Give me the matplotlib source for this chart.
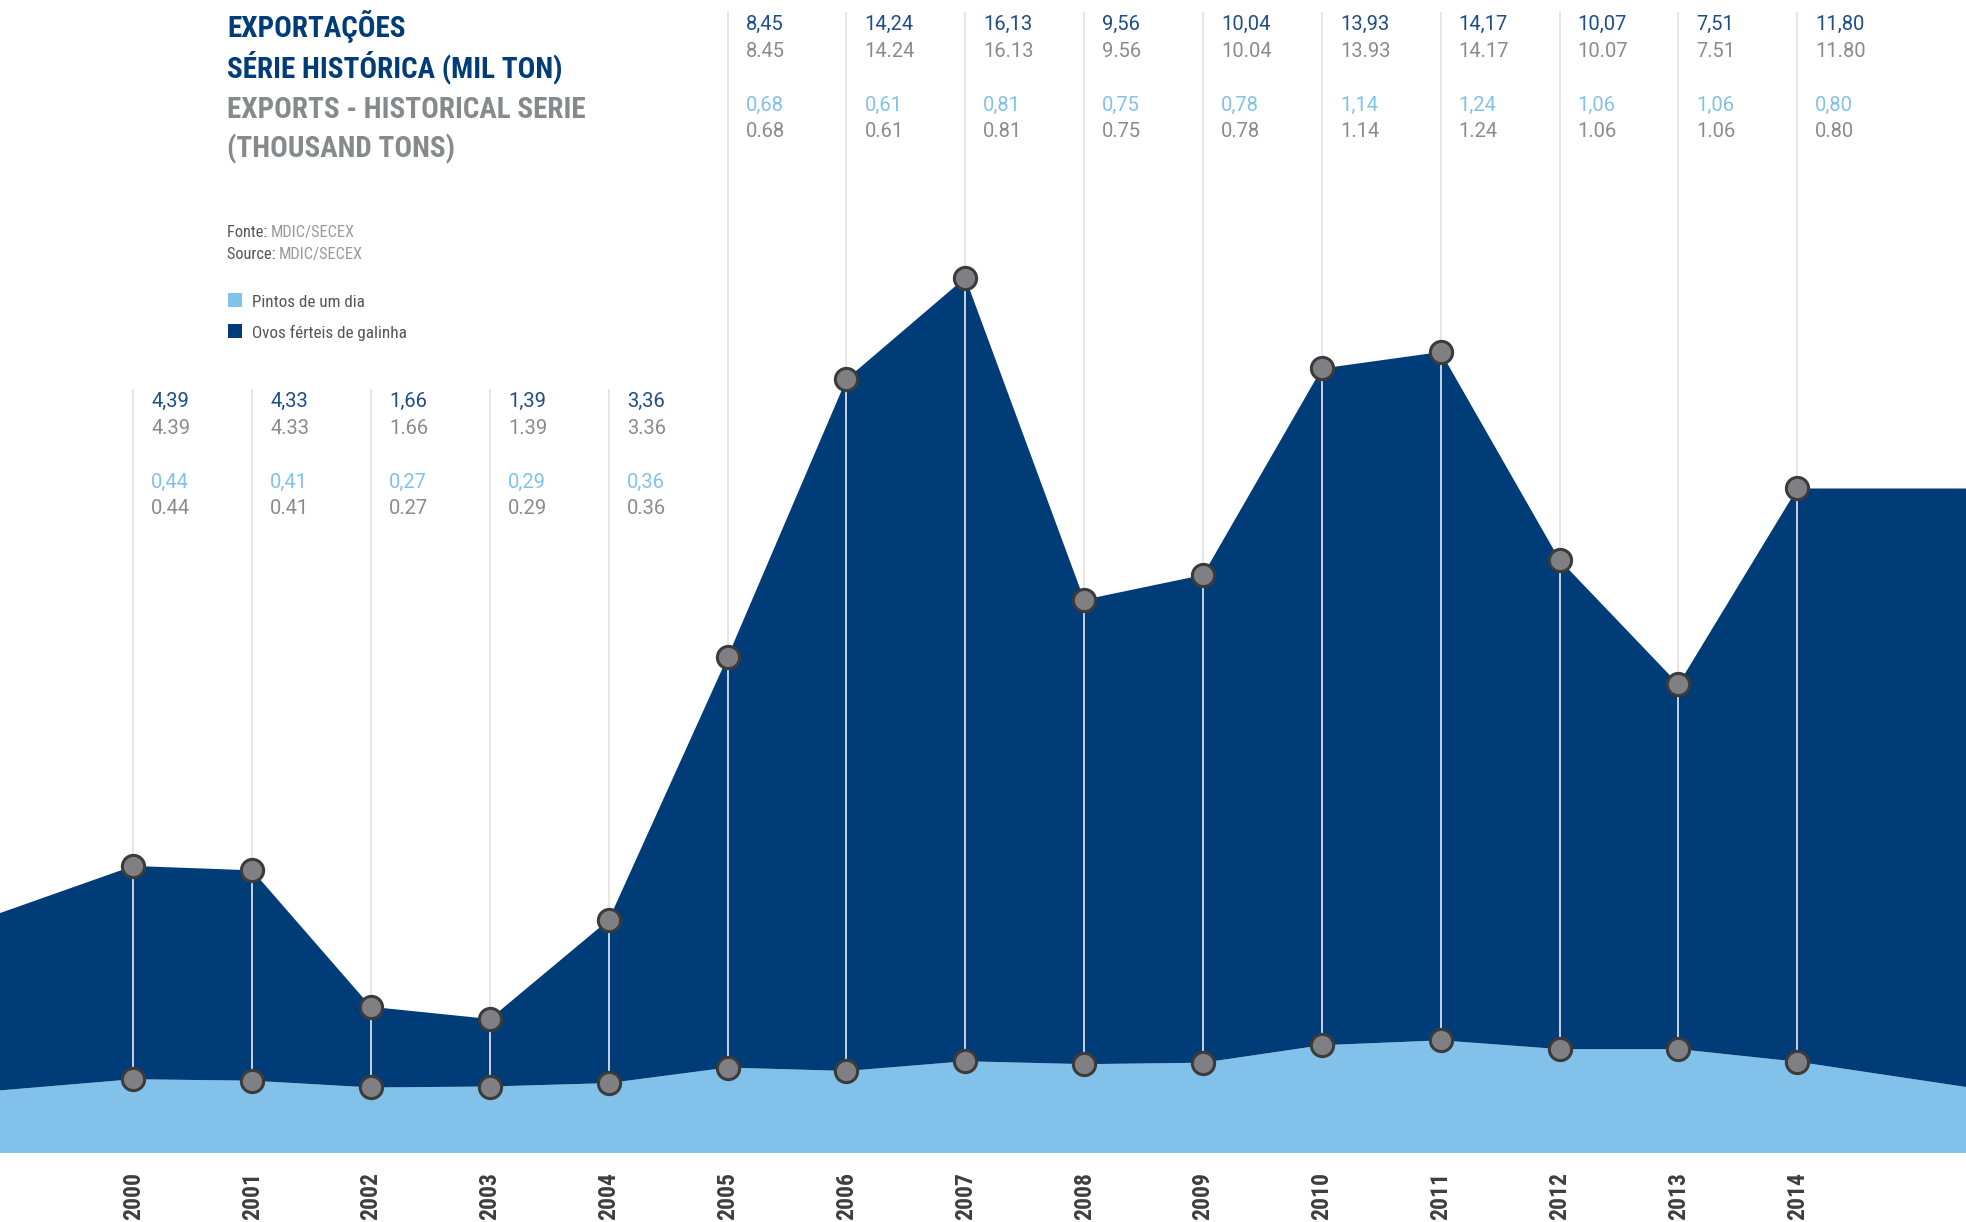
import matplotlib
matplotlib.use("Agg")
import matplotlib.pyplot as plt
import matplotlib.transforms as mtransforms
from matplotlib import font_manager as fm
import numpy as np

# ---------------- data ----------------
years = [2000, 2001, 2002, 2003, 2004, 2005, 2006, 2007, 2008, 2009, 2010, 2011, 2012, 2013, 2014]
ovos = [4.39, 4.33, 1.66, 1.39, 3.36, 8.45, 14.24, 16.13, 9.56, 10.04, 13.93, 14.17, 10.07, 7.51, 11.80]
pintos = [0.44, 0.41, 0.27, 0.29, 0.36, 0.68, 0.61, 0.81, 0.75, 0.78, 1.14, 1.24, 1.06, 1.06, 0.80]
# values where the areas run off the left / right edges of the picture
edge_ovos = [3.65, 12.32]
edge_pintos = [0.21, 0.28]

title_pt = ["EXPORTAÇÕES", "SÉRIE HISTÓRICA (MIL TON)"]
title_en = ["EXPORTS - HISTORICAL SERIE", "(THOUSAND TONS)"]
legend_labels = ["Pintos de um dia", "Ovos férteis de galinha"]
source_labels = [("Fonte: ", "MDIC/SECEX"), ("Source: ", "MDIC/SECEX")]
low_row_years = [2000, 2001, 2002, 2003, 2004]

# ---------------- style ----------------
DARK = "#003c77"
LIGHT = "#82c1ea"
LABEL_DARK = "#1f4d86"
LABEL_LIGHT = "#82c1ea"
GREY = "#8b8b8e"
TITLE_GREY = "#88898c"

names = {f.name for f in fm.fontManager.ttflist}
def pick(*cands):
    for c in cands:
        if c in names:
            return c
    return "DejaVu Sans"

COND = pick("Roboto Condensed", "Liberation Sans Narrow", "Roboto")
BODY = pick("Roboto", "Lato", "DejaVu Sans")

W, H = 1966, 1222
fig = plt.figure(figsize=(W / 100, H / 100), dpi=100)
ax = fig.add_axes([0, 0, 1, 1])
ax.set_axis_off()

px_per_year = 118.86
x_left = 2000 - 133.3 / px_per_year
x_right = x_left + W / px_per_year
ax.set_xlim(x_left, x_right)
zero_px = 1100.6
px_per_unit = 48.58
ax.set_ylim(-(H - zero_px) / px_per_unit, zero_px / px_per_unit)
BASE = -(1153 - zero_px) / px_per_unit

all_x = np.array([x_left] + years + [x_right], dtype=float)
all_o = np.array([edge_ovos[0]] + ovos + [edge_ovos[1]])
all_p = np.array([edge_pintos[0]] + pintos + [edge_pintos[1]])
total = all_o + all_p

ax.fill_between(all_x, BASE, all_p, color=LIGHT, lw=0, zorder=1)
ax.fill_between(all_x, all_p, total, color=DARK, lw=0, zorder=1)

yrs = np.array(years, dtype=float)
tot = np.array(ovos) + np.array(pintos)
pin = np.array(pintos)

def fig_y_to_data(ypx):
    return (zero_px - ypx) / px_per_unit

# grid lines above the areas and connectors inside
for x, t, p in zip(yrs, tot, pin):
    top_px = 389 if int(x) in low_row_years else 12
    ax.plot([x, x], [t, fig_y_to_data(top_px)], color="#e6e6e6", lw=1.4, zorder=0.5,
            solid_capstyle="butt")
    ax.plot([x, x], [p, t], color="#c8d3e0", lw=1.4, zorder=2, solid_capstyle="butt")

mk = dict(marker="o", ms=16, mfc="#808084", mec="#3b3b3b", mew=2.2, ls="none", zorder=3)
ax.plot(yrs, tot, **mk)
ax.plot(yrs, pin, **mk)

# value labels
blend = mtransforms.blended_transform_factory(ax.transData, fig.transFigure)
trans = mtransforms.offset_copy(blend, fig=fig, x=18, y=0, units="dots")
fs_num = 14.5
for x, o, p in zip(years, ovos, pintos):
    off = 377 if x in low_row_years else 0
    rows = [(f"{o:.2f}".replace(".", ","), LABEL_DARK, 30),
            (f"{o:.2f}", GREY, 57),
            (f"{p:.2f}".replace(".", ","), LABEL_LIGHT, 111),
            (f"{p:.2f}", GREY, 137)]
    for txt, col, base in rows:
        ax.text(x, 1 - (base + off) / H, txt, transform=trans, color=col,
                fontsize=fs_num, family=BODY, fontweight="normal",
                ha="left", va="baseline")

# year labels
for x in years:
    ax.text(x, 1 - 1172 / H, str(x), transform=blend,
            rotation=90, ha="center", va="top", fontsize=17, fontweight="bold",
            family=COND, color="#3e3e3e")

# title
tx = 227 / W
for txt, base, col in zip(title_pt + title_en, [37, 77, 118, 157],
                          [DARK, DARK, TITLE_GREY, TITLE_GREY]):
    fig.text(tx, 1 - base / H, txt, color=col, fontsize=21, fontweight="bold",
             family=COND, ha="left", va="baseline")

# source
for (lab, val), base in zip(source_labels, [237, 259]):
    t = fig.text(tx, 1 - base / H, lab, color="#555558", fontsize=11.8, family=COND,
                 ha="left", va="baseline")
    fig.canvas.draw()
    bb = t.get_window_extent()
    fig.text(bb.x1 / W, 1 - base / H, val, color="#9a9a9c", fontsize=11.8, family=COND,
             ha="left", va="baseline")

# legend
for lab, col, base in zip(legend_labels, [LIGHT, DARK], [307, 338]):
    fig.patches.append(plt.Rectangle((228 / W, 1 - base / H), 14 / W, 14 / H,
                                     transform=fig.transFigure, color=col, lw=0))
    fig.text(252 / W, 1 - base / H, lab, color="#555558", fontsize=12.3, family=COND,
             ha="left", va="baseline")

fig.savefig("out.png", dpi=100)
